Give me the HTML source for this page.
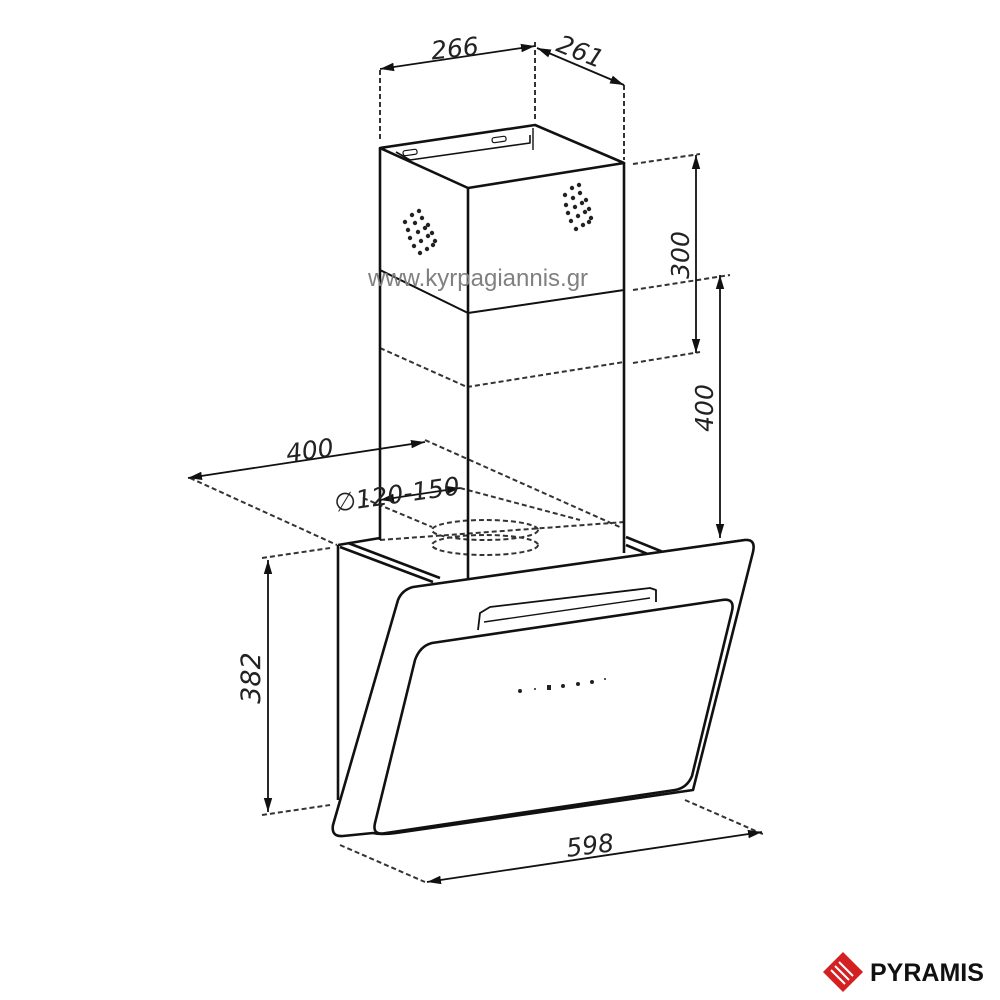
<!DOCTYPE html>
<html><head><meta charset="utf-8"><style>
html,body{margin:0;padding:0;background:#fff}
svg{display:block}
text{font-family:"DejaVu Sans","Liberation Sans",sans-serif;fill:#222}
</style></head><body>
<svg width="1000" height="1000" viewBox="0 0 1000 1000" xmlns="http://www.w3.org/2000/svg">
<defs>
<marker id="a" viewBox="0 0 10 10" refX="10" refY="5" markerWidth="14" markerHeight="14" orient="auto-start-reverse" markerUnits="userSpaceOnUse"><path d="M0,2 L10,5 L0,8 z" fill="#111"/></marker>
</defs>
<g stroke="#333" stroke-width="2" fill="none" stroke-dasharray="5,3">
<line x1="380" y1="70" x2="380" y2="142"/>
<line x1="535" y1="42" x2="535" y2="122"/>
<line x1="624" y1="85" x2="624" y2="160"/>
<line x1="633" y1="164" x2="700" y2="154"/>
<line x1="633" y1="290" x2="730" y2="275"/>
<line x1="633" y1="363" x2="700" y2="352"/>
<line x1="380" y1="348" x2="467" y2="387"/>
<line x1="467" y1="387" x2="624" y2="362"/>
<line x1="190" y1="478" x2="337" y2="545"/>
<line x1="425" y1="440" x2="622" y2="528"/>
<line x1="363" y1="498" x2="432" y2="527"/>
<line x1="460" y1="488" x2="580" y2="520"/>
<line x1="380" y1="540" x2="625" y2="522"/>
<ellipse cx="485" cy="530" rx="53" ry="10"/>
<ellipse cx="485" cy="545" rx="53" ry="10"/>
<line x1="262" y1="558" x2="330" y2="548"/>
<line x1="262" y1="815" x2="330" y2="805"/>
<line x1="340" y1="845" x2="425" y2="882"/>
<line x1="685" y1="800" x2="765" y2="835"/>
</g>
<g stroke="#111" stroke-width="1.8" fill="none">
<line x1="380" y1="69" x2="535" y2="46" marker-start="url(#a)" marker-end="url(#a)"/>
<line x1="537" y1="48" x2="624" y2="85" marker-start="url(#a)" marker-end="url(#a)"/>
<line x1="696" y1="155" x2="696" y2="353" marker-start="url(#a)" marker-end="url(#a)"/>
<line x1="720" y1="275" x2="720" y2="538" marker-start="url(#a)" marker-end="url(#a)"/>
<line x1="188" y1="478" x2="425" y2="442" marker-start="url(#a)" marker-end="url(#a)"/>
<line x1="380" y1="500" x2="460" y2="488" marker-start="url(#a)" marker-end="url(#a)"/>
<line x1="268" y1="560" x2="268" y2="812" marker-start="url(#a)" marker-end="url(#a)"/>
<line x1="427" y1="882" x2="762" y2="832" marker-start="url(#a)" marker-end="url(#a)"/>
</g>
<g stroke="#111" stroke-width="2.6" fill="none" stroke-linejoin="round">
<path d="M380,148 L535,125 L624,163 L468,188 Z"/>
<line x1="380" y1="148" x2="380" y2="540"/>
<line x1="468" y1="188" x2="468" y2="580"/>
<line x1="624" y1="163" x2="624" y2="553"/>
<path d="M396,152 L410,160 L530,143 L530,135" stroke-width="1.6"/>
<line x1="533" y1="128" x2="533" y2="150" stroke-width="1.4"/>
<line x1="468" y1="313" x2="624" y2="290" stroke-width="2"/>
<line x1="380" y1="270" x2="468" y2="313" stroke-width="2"/>
<rect x="403" y="150" width="14" height="5" rx="2" transform="rotate(-8 410 152)" stroke-width="1.2"/>
<rect x="492" y="137" width="14" height="5" rx="2" transform="rotate(-8 499 139)" stroke-width="1.2"/>
</g>
<g fill="#222">
<circle cx="405" cy="222" r="2.2"/><circle cx="412" cy="215" r="2.2"/><circle cx="419" cy="211" r="2.2"/>
<circle cx="408" cy="230" r="2.2"/><circle cx="415" cy="223" r="2.2"/><circle cx="422" cy="218" r="2.2"/><circle cx="428" cy="225" r="2.2"/>
<circle cx="410" cy="238" r="2.2"/><circle cx="418" cy="232" r="2.2"/><circle cx="425" cy="228" r="2.2"/><circle cx="432" cy="233" r="2.2"/>
<circle cx="414" cy="246" r="2.2"/><circle cx="421" cy="241" r="2.2"/><circle cx="428" cy="236" r="2.2"/><circle cx="435" cy="241" r="2.2"/>
<circle cx="420" cy="253" r="2.2"/><circle cx="427" cy="249" r="2.2"/><circle cx="433" cy="245" r="2.2"/>
<circle cx="565" cy="195" r="2.2"/><circle cx="572" cy="188" r="2.2"/><circle cx="579" cy="185" r="2.2"/>
<circle cx="566" cy="205" r="2.2"/><circle cx="573" cy="198" r="2.2"/><circle cx="580" cy="193" r="2.2"/><circle cx="586" cy="200" r="2.2"/>
<circle cx="568" cy="213" r="2.2"/><circle cx="575" cy="207" r="2.2"/><circle cx="582" cy="203" r="2.2"/><circle cx="589" cy="209" r="2.2"/>
<circle cx="571" cy="221" r="2.2"/><circle cx="578" cy="216" r="2.2"/><circle cx="585" cy="212" r="2.2"/><circle cx="591" cy="218" r="2.2"/>
<circle cx="576" cy="229" r="2.2"/><circle cx="583" cy="225" r="2.2"/><circle cx="589" cy="222" r="2.2"/>
</g>
<text x="478" y="286" font-size="24" text-anchor="middle" style="fill:#808080;font-family:'Liberation Sans',sans-serif">www.kyrpagiannis.gr</text>
<g stroke="#111" stroke-width="2.6" fill="none" stroke-linejoin="round">
<line x1="338" y1="545" x2="338" y2="800"/>
<path d="M338,545 L380,538"/>
<path d="M340,547 L433,582 M348,543 L440,578"/>
<path d="M626,537 L663,552 M626,545 L650,555"/>
<path d="M468,580 L745,540" />
<path d="M413,587 L745,540 Q756,539 753,552 L693,790 L396,833 Q382,835 373,833 L343,836 Q331,837 333,825 L398,600 Q402,590 413,587 Z" fill="#fff"/>
<path d="M432,643 L722,600 Q735,598 732,611 L692,776 Q687,788 675,790 L386,833 Q372,836 375,823 L415,660 Q420,646 432,643 Z" fill="#fff"/>
<path d="M478,630 L480,613 L490,607 L650,588 L656,590 L656,602" stroke-width="1.8"/>
<path d="M484,622 L650,598" stroke-width="1.4"/>
</g>
<g fill="#222">
<circle cx="520" cy="691" r="2"/><circle cx="535" cy="689" r="1"/><rect x="547" y="685" width="4" height="5"/><circle cx="563" cy="686" r="2"/><circle cx="578" cy="684" r="2"/><circle cx="592" cy="682" r="2"/><circle cx="605" cy="679" r="1"/>
</g>
<text x="455" y="57" font-size="25" font-style="italic" text-anchor="middle" transform="rotate(-6 455 50)">266</text>
<text x="580" y="60" font-size="25" font-style="italic" text-anchor="middle" transform="rotate(22 580 52)">261</text>
<text x="0" y="0" font-size="25" font-style="italic" text-anchor="middle" transform="translate(689,255) rotate(-90)">300</text>
<text x="0" y="0" font-size="25" font-style="italic" text-anchor="middle" transform="translate(713,408) rotate(-90)">400</text>
<text x="310" y="459" font-size="25" font-style="italic" text-anchor="middle" transform="rotate(-8 310 452)">400</text>
<text x="397" y="503" font-size="25" font-style="italic" text-anchor="middle" transform="rotate(-8 397 495)">∅120-150</text>
<text x="0" y="0" font-size="27" font-style="italic" text-anchor="middle" transform="translate(260,678) rotate(-90)">382</text>
<text x="590" y="854" font-size="25" font-style="italic" text-anchor="middle" transform="rotate(-7 590 845)">598</text>
<g transform="translate(843,972)">
<path d="M-20,0 L0,-20 L20,0 L0,20 Z" fill="#d42020"/>
<path d="M-8,-6 L6,8 M-4,-10 L10,4 M-12,-2 L2,12" stroke="#fff" stroke-width="2"/>
</g>
<text x="870" y="981" font-size="25" font-weight="bold" style="fill:#111;font-family:'Liberation Sans',sans-serif">PYRAMIS</text>
</svg>
</body></html>
